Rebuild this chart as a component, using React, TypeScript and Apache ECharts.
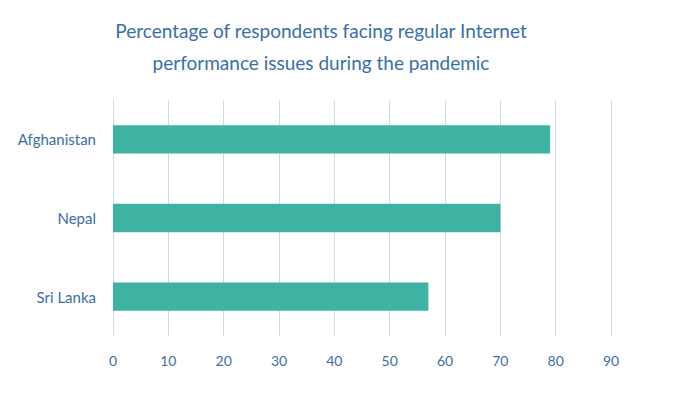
import React, { useEffect, useRef } from "react";
import * as echarts from "echarts";

const categories = ["Afghanistan", "Nepal", "Sri Lanka"];
const values = [79, 70, 57];
const xTicks = [0, 10, 20, 30, 40, 50, 60, 70, 80, 90];
const titleLines = [
  "Percentage of respondents facing regular Internet",
  "performance issues during the pandemic",
];

export default function App() {
  const ref = useRef<HTMLDivElement>(null);
  useEffect(() => {
    if (!ref.current) return;
    const chart = echarts.init(ref.current, undefined, { renderer: "svg" });
    const textColor = "#3b6ea8";
    const font = "Lato";
    chart.setOption({
      animation: false,
      backgroundColor: "#ffffff",
      title: {
        text: titleLines.join("\n"),
        left: 316,
        top: 9,
        textAlign: "center",
        textStyle: {
          color: textColor,
          fontSize: 19,
          fontWeight: "normal",
          fontFamily: font,
          lineHeight: 32,
        },
      },
      grid: { left: 113, right: 74, top: 100, bottom: 61 },
      xAxis: {
        type: "value",
        min: xTicks[0],
        max: xTicks[xTicks.length - 1],
        interval: 10,
        axisLine: { show: false },
        axisTick: { show: false },
        splitLine: { show: true, lineStyle: { color: "#cddcec", width: 1 } },
        axisLabel: { color: textColor, fontSize: 14, fontFamily: font, margin: 17 },
      },
      yAxis: {
        type: "category",
        data: categories,
        inverse: true,
        axisLine: { show: true, lineStyle: { color: "#cddcec" } },
        axisTick: { show: false },
        axisLabel: { color: textColor, fontSize: 15, fontFamily: font, margin: 17 },
      },
      series: [
        {
          type: "bar",
          data: values,
          barWidth: "36%",
          itemStyle: { color: "#3fb3a3" },
        },
      ],
    });
    return () => chart.dispose();
  }, []);
  return (
    <div
      ref={ref}
      style={{ position: "fixed", left: 0, top: 0, width: 685, height: 397 }}
    />
  );
}
